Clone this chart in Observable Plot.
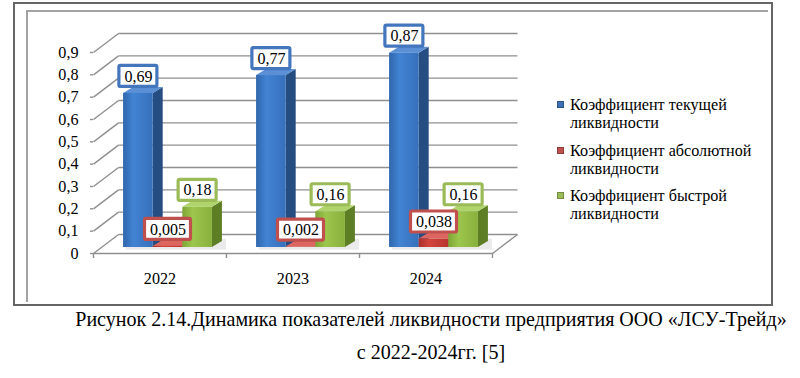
<!DOCTYPE html>
<html><head><meta charset="utf-8">
<script src="https://cdn.jsdelivr.net/npm/d3@7"></script>
<script src="https://cdn.jsdelivr.net/npm/@observablehq/plot@0.6"></script>
<style>
html,body{margin:0;padding:0;background:#fff;}
#wrap{position:relative;width:800px;height:378px;overflow:hidden;font-family:"Liberation Serif","Tinos","Times New Roman","DejaVu Serif Condensed","DejaVu Serif",serif;color:#000;}
#outer{position:absolute;left:13px;top:2px;width:756px;height:300px;border:2px solid #666;}
#inner{position:absolute;left:26px;top:10px;width:740px;height:290px;border-left:2px solid #a3a3a3;border-top:2px solid #a3a3a3;}
#chart{position:absolute;left:0;top:0;}
.leg{position:absolute;left:557px;font-size:15px;line-height:18px;}
.leg .sw{position:absolute;left:0;top:5px;width:7px;height:7px;}
.leg .tx{position:absolute;left:13px;top:0;white-space:nowrap;}
.cap{position:absolute;left:31px;width:800px;text-align:center;font-size:19px;line-height:22px;white-space:nowrap;}
#probe{position:absolute;left:0;top:0;visibility:hidden;white-space:nowrap;}
</style>
</head><body>
<div id="wrap">
  <div id="outer"></div>
  <div id="inner"></div>
  <div id="chart"></div>
  <div id="legend"></div>
  <div class="cap" id="cap1" style="top:308px"></div>
  <div class="cap" id="cap2" style="top:341px"></div>
  <span id="probe"></span>
</div>
<script>
// ---- data ----
const years = ["2022", "2023", "2024"];
const seriesNames = [
  ["Коэффициент текущей", "ликвидности"],
  ["Коэффициент абсолютной", "ликвидности"],
  ["Коэффициент быстрой", "ликвидности"]
];
const currentRatio = [0.69, 0.77, 0.87];
const absoluteRatio = [0.005, 0.002, 0.038];
const quickRatio = [0.18, 0.16, 0.16];
const yTicks = [0, 0.1, 0.2, 0.3, 0.4, 0.5, 0.6, 0.7, 0.8, 0.9];
const caption1 = "Рисунок 2.14.Динамика показателей ликвидности предприятия ООО «ЛСУ-Трейд»";
const caption2 = "с 2022-2024гг. [5]";

// ---- font fitting: pick a size so a sample text gets a target width ----
const FONT = "'Liberation Serif','Tinos','Times New Roman','DejaVu Serif Condensed','DejaVu Serif',serif";
const probe = document.getElementById("probe");
function fit(text, targetW, baseSize) {
  probe.style.fontSize = baseSize + "px";
  probe.textContent = text;
  const w = probe.getBoundingClientRect().width;
  return Math.min(baseSize * 1.15, baseSize * targetW / w);
}
const capSize = fit(caption1, 712, 19);
const tickSize = fit("Коэффициент текущей", 157, 15);
const labelSize = Math.min(16, tickSize * 16 / 15);

// ---- styles ----
const pal = [
  {front0: "#2f67ad", front1: "#4283d3", front2: "#3670bb", side: "#264d82", top: "#5b90d6", label: "#4376bd", sw: "#3d70b5"},
  {front0: "#a8302a", front1: "#d2443c", front2: "#b8352f", side: "#7e221e", top: "#dd6660", label: "#c0504d", sw: "#c0504d"},
  {front0: "#7da536", front1: "#9dc64d", front2: "#88b03c", side: "#5e7e25", top: "#b0d46c", label: "#9bbb59", sw: "#9bbb59"}
];
const values = [currentRatio, absoluteRatio, quickRatio];
const fmt = v => String(v).replace(".", ",");

// ---- geometry (pixels converted to data units) ----
const W = 800, H = 305;
const mL = 93, mR = 308, mT = 52, mB = 52;
const PXX = (W - mL - mR) / 3, PXY = (H - mT - mB) / 0.9;
const WX = 25 / PXX, WY = 19 / PXY;      // wall depth
const PLANE_DX = 8, PLANE_DY = 6;         // bars plane offset
const SX = 10 / PXX, SY = 6 / PXY;        // bar depth
const GROUP = 0.668, BW = GROUP / 3;

const bars = [];
values.forEach((arr, s) => arr.forEach((v, i) => {
  const xa = i + 0.5 - GROUP / 2 + s * BW;
  bars.push({s, i, v, xa, xb: xa + BW, cx: xa + BW / 2, key: s + "-" + i, label: fmt(v)});
}));

const marks = [];
const GRID = "#8f8f8f";
marks.push(Plot.link(yTicks, {x1: () => WX, x2: () => 3 + WX, y1: d => d + WY, y2: d => d + WY, stroke: GRID, strokeWidth: 1.4}));
marks.push(Plot.link(yTicks, {x1: () => 0, x2: () => WX, y1: d => d, y2: d => d + WY, stroke: GRID, strokeWidth: 1.4}));
marks.push(Plot.link([0], {x1: () => 0, x2: () => 3, y1: () => 0, y2: () => 0, stroke: GRID, strokeWidth: 1.4}));
marks.push(Plot.link([0], {x1: () => 3, x2: () => 3 + WX, y1: () => 0, y2: () => WY, stroke: GRID, strokeWidth: 1.4}));
marks.push(Plot.ruleX([0, 1, 2, 3], {y1: () => 0, y2: () => -5 / PXY, stroke: GRID, strokeWidth: 1.4}));

// floor shadows
marks.push(Plot.rect(bars.filter(b => b.s === 0), {
  x1: b => b.xa + 0.02, x2: b => b.xa + GROUP + SX + 0.03, y1: () => -0.012, y2: () => SY + 0.01,
  fill: "#dcdcdc", fillOpacity: 0.6, dx: PLANE_DX, dy: -PLANE_DY
}));

for (let s = 0; s < 3; s++) {
  const bs = bars.filter(b => b.s === s);
  const side = bs.flatMap(b => [
    {key: b.key, x: b.xb, y1: 0, y2: b.v},
    {key: b.key, x: b.xb + SX, y1: SY, y2: b.v + SY}
  ]);
  const top = bs.flatMap(b => [
    {key: b.key, y: b.v, x1: b.xa, x2: b.xb},
    {key: b.key, y: b.v + SY, x1: b.xa + SX, x2: b.xb + SX}
  ]);
  marks.push(Plot.areaY(side, {x: "x", y1: "y1", y2: "y2", z: "key", fill: pal[s].side, dx: PLANE_DX, dy: -PLANE_DY}));
  marks.push(Plot.areaX(top, {y: "y", x1: "x1", x2: "x2", z: "key", fill: pal[s].top, dx: PLANE_DX, dy: -PLANE_DY}));
  marks.push(Plot.rect(bs, {x1: "xa", x2: "xb", y1: () => 0, y2: "v", fill: `url(#gf${s})`, dx: PLANE_DX, dy: -PLANE_DY}));
}

for (let s = 0; s < 3; s++) {
  for (const len of [4, 5]) {
    const ls = bars.filter(b => b.s === s && b.label.length === len);
    const half = len === 4 ? 19 : 23;
    marks.push(Plot.rect(ls, {
      x1: "cx", x2: "cx", y1: "v", y2: "v",
      insetLeft: -half, insetRight: -half, insetTop: -10.5, insetBottom: -10.5,
      fill: "#fff", stroke: pal[s].label, strokeWidth: 3.2, rx: 1.5,
      dx: PLANE_DX, dy: -PLANE_DY - 17
    }));
  }
  marks.push(Plot.text(bars.filter(b => b.s === s), {
    x: "cx", y: "v", text: "label", fontSize: labelSize, fill: "#000",
    dx: PLANE_DX, dy: -PLANE_DY - 17
  }));
}

const svg = Plot.plot({
  width: W, height: H,
  marginLeft: mL, marginRight: mR, marginTop: mT, marginBottom: mB,
  style: {background: "transparent", fontFamily: FONT, fontSize: tickSize + "px", color: "#000", overflow: "visible"},
  x: {domain: [0, 3], ticks: [0.5, 1.5, 2.5], tickFormat: d => years[Math.floor(d)], tickSize: 0, tickPadding: 19, label: null},
  y: {domain: [0, 0.9], ticks: yTicks, tickFormat: fmt, tickSize: 3, tickPadding: 12, label: null},
  marks
});

const defs = d3.select(svg).insert("defs", ":first-child");
pal.forEach((p, s) => {
  const g = defs.append("linearGradient").attr("id", "gf" + s).attr("x1", "0").attr("x2", "1").attr("y1", "0").attr("y2", "0");
  g.append("stop").attr("offset", "0").attr("stop-color", p.front0);
  g.append("stop").attr("offset", "0.35").attr("stop-color", p.front1);
  g.append("stop").attr("offset", "1").attr("stop-color", p.front2);
});
d3.select(svg).selectAll("[aria-label='y-axis tick'] path, [aria-label='y-axis'] line, [aria-label='y-axis'] path").attr("stroke", GRID).attr("stroke-width", 1.4);
document.getElementById("chart").appendChild(svg);

const legTops = [96, 142, 187];
const leg = document.getElementById("legend");
seriesNames.forEach((lines, s) => {
  const d = document.createElement("div");
  d.className = "leg";
  d.style.top = legTops[s] + "px";
  d.style.fontSize = tickSize + "px";
  d.innerHTML = `<div class="sw" style="background:${pal[s].sw};box-shadow:inset 0 0 0 1px rgba(0,0,0,0.25)"></div><div class="tx">${lines.join("<br>")}</div>`;
  leg.appendChild(d);
});
const c1 = document.getElementById("cap1"), c2 = document.getElementById("cap2");
c1.textContent = caption1; c2.textContent = caption2;
c1.style.fontSize = capSize + "px"; c2.style.fontSize = capSize + "px";
</script>
</body></html>
